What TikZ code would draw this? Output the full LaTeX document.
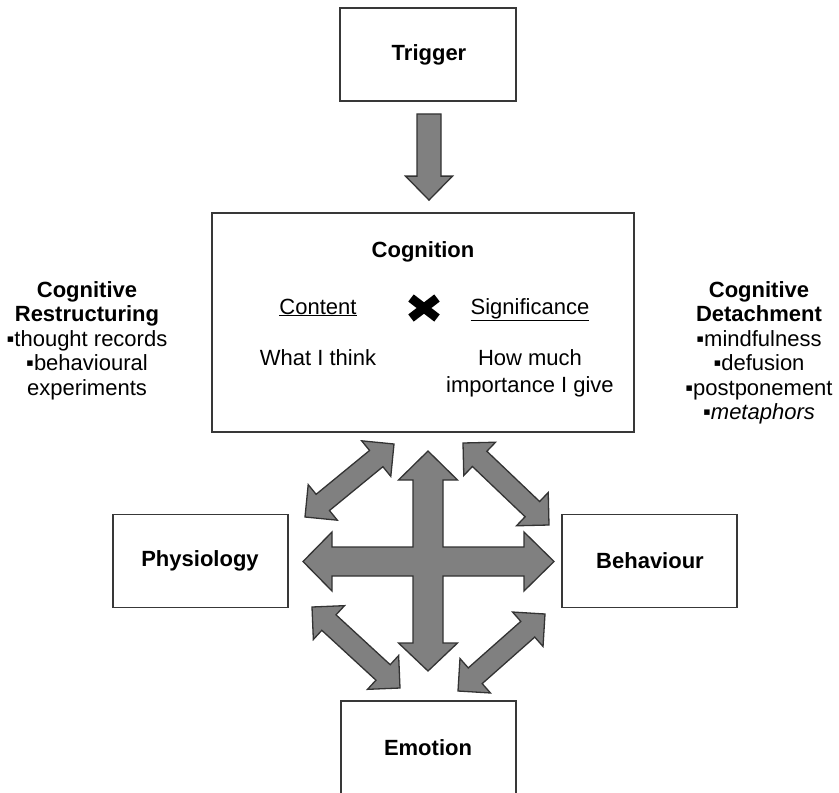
\documentclass[tikz,border=0pt]{standalone}
\usepackage{fontspec}
\setmainfont{Liberation Sans}
\usetikzlibrary{calc}
\newcommand{\dblarr}[5]{%
  \draw[blockarrow] (#1) -- ($(#1)!#3!(#2)!#4!90:(#2)$) -- ($(#1)!#3!(#2)!#5!90:(#2)$)
   -- ($(#2)!#3!(#1)!#5!-90:(#1)$) -- ($(#2)!#3!(#1)!#4!-90:(#1)$) -- (#2)
   -- ($(#2)!#3!(#1)!#4!90:(#1)$) -- ($(#2)!#3!(#1)!#5!90:(#1)$)
   -- ($(#1)!#3!(#2)!#5!-90:(#2)$) -- ($(#1)!#3!(#2)!#4!-90:(#2)$) -- cycle;}
\tikzset{
  box/.style={draw=black!78, line width=1.8pt, fill=white, minimum width=175pt, minimum height=93pt, inner sep=0pt},
  txt/.style={inner sep=0pt, align=center, font=\fontsize{22}{24.5}\selectfont},
  btxt/.style={txt, font=\fontsize{22}{24.5}\selectfont\bfseries},
  blockarrow/.style={draw=black!80, line width=1.3pt, fill=black!50, line join=miter}
}
\begin{document}
\begin{tikzpicture}[x=1pt,y=-1pt]
\useasboundingbox (0,0) rectangle (839,793);
% boxes
\node[box, minimum width=176pt] (trigger) at (428,54.5) {};
\node[btxt] (triggert) at (429,55) {Trigger};
\node[box, minimum width=422pt, minimum height=219pt] (cognition) at (423,322.5) {};
\node[box] (physiology) at (200.5,561) {};
\node[btxt] (physiologyt) at (200,561) {Physiology};
\node[box] (behaviour) at (649.5,561) {};
\node[btxt] (behaviourt) at (650,561) {Behaviour};
\node[box, minimum height=96pt] (emotion) at (428.5,749) {};
\node[btxt] (emotiont) at (428,748) {Emotion};
% cognition contents
\node[btxt] (cogt) at (423,252) {Cognition};
\node[txt, anchor=base] (content) at (318,314) {\underline{Content}};
\node[txt, anchor=base] (signif) at (530,314) {\underline{Significance}};
\draw[line width=9pt, black] (411,298) -- (437,318) (411,318) -- (437,298);
\node[txt, anchor=base] (what) at (318,365) {What I think};
\node[txt, anchor=base, font=\fontsize{22}{26.7}\selectfont] (how) at (530,392) {How much\\importance I give};
% side texts
\node[txt, anchor=north] (restr) at (87,281) {\textbf{Cognitive}\\\textbf{Restructuring}\\▪thought records\\▪behavioural\\experiments};
\node[txt, anchor=north] (detach) at (759,281) {\textbf{Cognitive}\\\textbf{Detachment}\\▪mindfulness\\▪defusion\\▪postponement\\▪\textit{metaphors}};
% trigger -> cognition arrow
\coordinate (ds) at ($(trigger.south)+(1,12)$);
\coordinate (de) at ($(cognition.north)+(6,-12)$);
\draw[blockarrow] ($(ds)+(-12,0)$) -- ($(ds)+(12,0)$) -- ($(de)+(12,-24)$) -- ($(de)+(23.5,-24)$)
  -- (de) -- ($(de)+(-23.5,-24)$) -- ($(de)+(-12,-24)$) -- cycle;
% central cross arrow
\coordinate (c) at (428,561.5);
\draw[blockarrow] (428,451) -- (457.5,480) -- (443,480) -- (443,547) -- (524,547) -- (524,532)
  -- (554,561.5) -- (524,591) -- (524,576) -- (443,576) -- (443,643) -- (457.5,643)
  -- (428,671) -- (398.5,643) -- (413,643) -- (413,576) -- (332,576) -- (332,591)
  -- (303,561.5) -- (332,532) -- (332,547) -- (413,547) -- (413,480) -- (398.5,480) -- cycle;
% diagonal double arrows
\coordinate (tl1) at (305,517); \coordinate (tl2) at (394,444);
\coordinate (tr1) at (463,443); \coordinate (tr2) at (549,525);
\coordinate (bl1) at (312,607); \coordinate (bl2) at (400,688);
\coordinate (br1) at (545,614); \coordinate (br2) at (458,691);
\dblarr{tl1}{tl2}{23pt}{23pt}{10.5pt}
\dblarr{tr1}{tr2}{23pt}{23pt}{10.5pt}
\dblarr{bl1}{bl2}{23pt}{23pt}{10.5pt}
\dblarr{br1}{br2}{23pt}{23pt}{10.5pt}
\end{tikzpicture}
\end{document}
